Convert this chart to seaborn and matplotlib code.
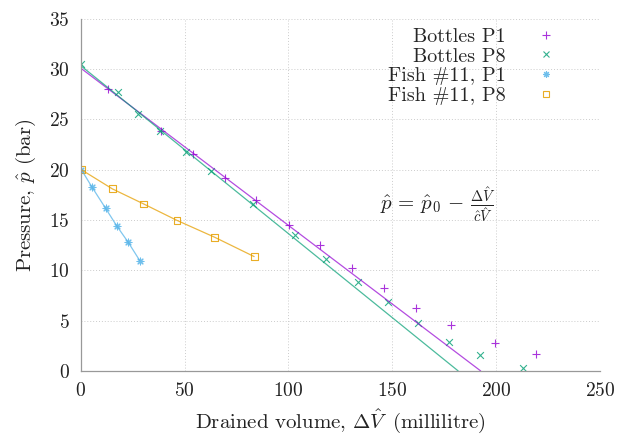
import numpy as np
import pandas as pd
import matplotlib
matplotlib.use("Agg")
import matplotlib.pyplot as plt
from matplotlib.lines import Line2D
import seaborn as sns

# Measured drained volume (mL) and pressure (bar)
bottles_p1_v = [13.0, 38.5, 54.0, 69.7, 84.6, 100.5, 115.4, 130.8, 146.0, 161.7, 178.5, 199.4, 219.3]
bottles_p1_p = [28.0, 23.9, 21.6, 19.2, 17.0, 14.55, 12.5, 10.2, 8.25, 6.26, 4.57, 2.75, 1.69]

bottles_p8_v = [0.3, 17.8, 27.6, 38.0, 50.8, 62.9, 83.0, 103.0, 118.0, 133.6, 148.0, 162.6, 177.3, 192.3, 212.9]
bottles_p8_p = [30.5, 27.75, 25.5, 23.9, 21.8, 19.9, 16.6, 13.55, 11.15, 8.88, 6.88, 4.73, 2.92, 1.55, 0.33]

fish_p1_v = [0.3, 5.4, 11.9, 17.2, 22.8, 28.4]
fish_p1_p = [20.0, 18.27, 16.18, 14.45, 12.8, 10.97]

fish_p8_v = [0.3, 15.2, 30.3, 46.3, 64.5, 83.5]
fish_p8_p = [20.0, 18.1, 16.6, 14.97, 13.29, 11.37]

# Linear model p = p0 - dV / (c V) for the bottle runs
bottles_p1_fit = {"p0": 30.1, "cV": 6.40}
bottles_p8_fit = {"p0": 30.35, "cV": 5.99}

labels = ["Bottles P1", "Bottles P8", "Fish #11, P1", "Fish #11, P8"]
colors = ["#9400d3", "#009e73", "#56b4e9", "#e69f00"]

x_ticks = [0, 50, 100, 150, 200, 250]
y_ticks = [0, 5, 10, 15, 20, 25, 30, 35]

sns.set_theme(style="white")
plt.rcParams["font.family"] = ["cmr10", "DejaVu Serif"]
plt.rcParams["mathtext.fontset"] = "cm"
plt.rcParams["axes.formatter.use_mathtext"] = True

fig = plt.figure(figsize=(6.17, 4.40), dpi=100)
ax = fig.add_axes([0.131, 0.157, 0.841, 0.800])

asterisk = (8, 2, 0)
mk = {"+": dict(marker="+", s=32, linewidths=0.8),
      "x": dict(marker="x", s=24, linewidths=0.8),
      "*": dict(marker=asterisk, s=24, linewidths=0.8),
      "s": dict(marker="s", s=24, linewidths=0.8, facecolors="none")}


def fit_line(fit):
    v = np.linspace(0, fit["p0"] * fit["cV"], 50)
    return v, fit["p0"] - v / fit["cV"]


v1, p1 = fit_line(bottles_p1_fit)
v8, p8 = fit_line(bottles_p8_fit)
sns.lineplot(x=v1, y=p1, color=colors[0], lw=0.9, alpha=0.7, ax=ax, sort=False)
sns.lineplot(x=v8, y=p8, color=colors[1], lw=0.9, alpha=0.7, ax=ax, sort=False)
sns.lineplot(x=fish_p1_v, y=fish_p1_p, color=colors[2], lw=0.9, alpha=0.75, ax=ax, sort=False)
sns.lineplot(x=fish_p8_v, y=fish_p8_p, color=colors[3], lw=0.9, alpha=0.75, ax=ax, sort=False)

sns.scatterplot(x=bottles_p1_v, y=bottles_p1_p, color=colors[0], alpha=0.8, ax=ax, **mk["+"])
sns.scatterplot(x=bottles_p8_v, y=bottles_p8_p, color=colors[1], alpha=0.8, ax=ax, **mk["x"])
sns.scatterplot(x=fish_p1_v, y=fish_p1_p, color=colors[2], alpha=0.85, ax=ax, **mk["*"])
sns.scatterplot(x=fish_p8_v, y=fish_p8_p, edgecolor=colors[3], alpha=0.85, ax=ax, **mk["s"])

ax.set_xlim(0, 250)
ax.set_ylim(0, 35)
ax.set_xticks(x_ticks)
ax.set_yticks(y_ticks)
ax.tick_params(direction="in", length=4, width=0.8, color="#999999",
               labelsize=14, labelcolor="#222222", pad=8)
ax.grid(True, linestyle=(0, (1, 2)), color="#cccccc", linewidth=0.7)
for side in ["top", "right"]:
    ax.spines[side].set_visible(False)
for side in ["left", "bottom"]:
    ax.spines[side].set_color("#999999")
    ax.spines[side].set_linewidth(0.9)

ax.set_xlabel(r"Drained volume, $\Delta\hat{V}\,$ (millilitre)", fontsize=15, color="#222222", labelpad=5)
ax.set_ylabel(r"Pressure, $\hat{p}$ (bar)", fontsize=15, color="#222222", labelpad=8)

ax.text(172, 16.5, r"$\hat{p} \,=\, \hat{p}_0 \,-\, \frac{\Delta\hat{V}}{\hat{c}\hat{V}}$",
        fontsize=15, ha="center", va="center", color="#222222")

handles = [
    Line2D([], [], ls="none", marker="+", color=colors[0], markersize=5.5, mew=0.8, alpha=0.8),
    Line2D([], [], ls="none", marker="x", color=colors[1], markersize=4.8, mew=0.8, alpha=0.8),
    Line2D([], [], ls="none", marker=asterisk, color=colors[2], markersize=4.8, mew=0.8, alpha=0.85),
    Line2D([], [], ls="none", marker="s", markerfacecolor="none", markeredgecolor=colors[3],
           markersize=4.8, mew=0.8, alpha=0.85),
]
ax.legend(handles, labels, loc="upper right", bbox_to_anchor=(0.915, 0.975), frameon=False,
          markerfirst=False, fontsize=14.5, handlelength=1.0, handletextpad=1.5,
          labelspacing=0.08, borderaxespad=0.0, borderpad=0.0)

fig.savefig("out.png", dpi=100)
